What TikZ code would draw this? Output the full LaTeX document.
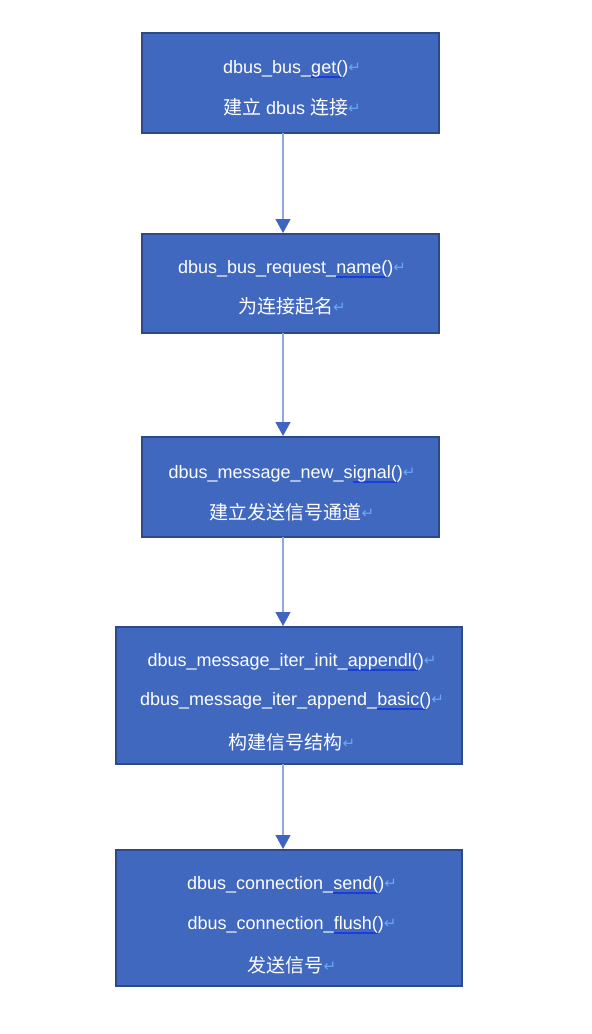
\documentclass[tikz,border=0pt]{standalone}
\usepackage{fontspec}
\setmainfont{Liberation Sans}
\newfontfamily\cjk{Noto Sans CJK SC}
\newfontfamily\symfont{DejaVu Sans}
\usetikzlibrary{arrows.meta}
\definecolor{boxfill}{HTML}{4068BF}
\definecolor{boxline}{HTML}{2C4A8A}
\definecolor{arrline}{HTML}{8FA8DD}
\definecolor{arrhead}{HTML}{3F65C0}
\definecolor{retblue}{HTML}{6AA8F0}
\definecolor{ulblue}{HTML}{1A3FD8}
\newlength\ulwidth
\newcommand\wul[1]{\settowidth\ulwidth{#1}\rlap{\color{ulblue}\rule[-4.5pt]{\ulwidth}{2pt}}#1}
\newcommand\ret{{\symfont\fontsize{15}{15}\selectfont\color{retblue}\raisebox{1pt}{↵}}}
\newcommand\zh[1]{{\cjk\fontsize{19}{19}\selectfont #1}}
\tikzset{
  stepbox/.style={draw=boxline, line width=2pt, fill=boxfill, inner sep=0pt},
  label/.style={text=white, font=\fontsize{18}{18}\selectfont, inner sep=0pt, anchor=center},
  flow/.style={draw=arrline, line width=1.3pt, -{Triangle[width=15pt,length=14pt,color=arrhead]}, shorten >=1pt}
}
\begin{document}
\begin{tikzpicture}[x=1pt,y=-1pt]
\useasboundingbox (0,0) rectangle (592,1034);
% boxes
\draw[stepbox] (142,33) rectangle (439,133) node[midway] (b1) {};
\draw[stepbox] (142,234) rectangle (439,333) node[midway] (b2) {};
\draw[stepbox] (142,437) rectangle (439,537) node[midway] (b3) {};
\draw[stepbox] (116,627) rectangle (462,764) node[midway] (b4) {};
\draw[stepbox] (116,850) rectangle (462,986) node[midway] (b5) {};
\coordinate (b1s) at (283,133);
\coordinate (b2n) at (283,234);
\coordinate (b2s) at (283,333);
\coordinate (b3n) at (283,437);
\coordinate (b3s) at (283,537);
\coordinate (b4n) at (283,627);
\coordinate (b4s) at (283,764);
\coordinate (b5n) at (283,850);
% texts
\node[label] (t11) at (292,69) {dbus\_bus\_\wul{get(})\ret};
\node[label] (t12) at (292,107) {\zh{建立} dbus \zh{连接}\ret};
\node[label] (t21) at (292,269) {dbus\_bus\_request\_\wul{name(})\ret};
\node[label] (t22) at (292,306) {\zh{为连接起名}\ret};
\node[label] (t31) at (292,474) {dbus\_message\_new\_s\wul{ignal(})\ret};
\node[label] (t32) at (292,512) {\zh{建立发送信号通道}\ret};
\node[label] (t41) at (292,662) {dbus\_message\_iter\_init\_\wul{appendl(})\ret};
\node[label] (t42) at (292,701) {dbus\_message\_iter\_append\_\wul{basic(})\ret};
\node[label] (t43) at (292,742) {\zh{构建信号结构}\ret};
\node[label] (t51) at (292,885) {dbus\_connection\_\wul{send(})\ret};
\node[label] (t52) at (292,925) {dbus\_connection\_\wul{flush(})\ret};
\node[label] (t53) at (292,965) {\zh{发送信号}\ret};
% connectors
\draw[flow] (b1s) -- (b2n);
\draw[flow] (b2s) -- (b3n);
\draw[flow] (b3s) -- (b4n);
\draw[flow] (b4s) -- (b5n);
\end{tikzpicture}
\end{document}
